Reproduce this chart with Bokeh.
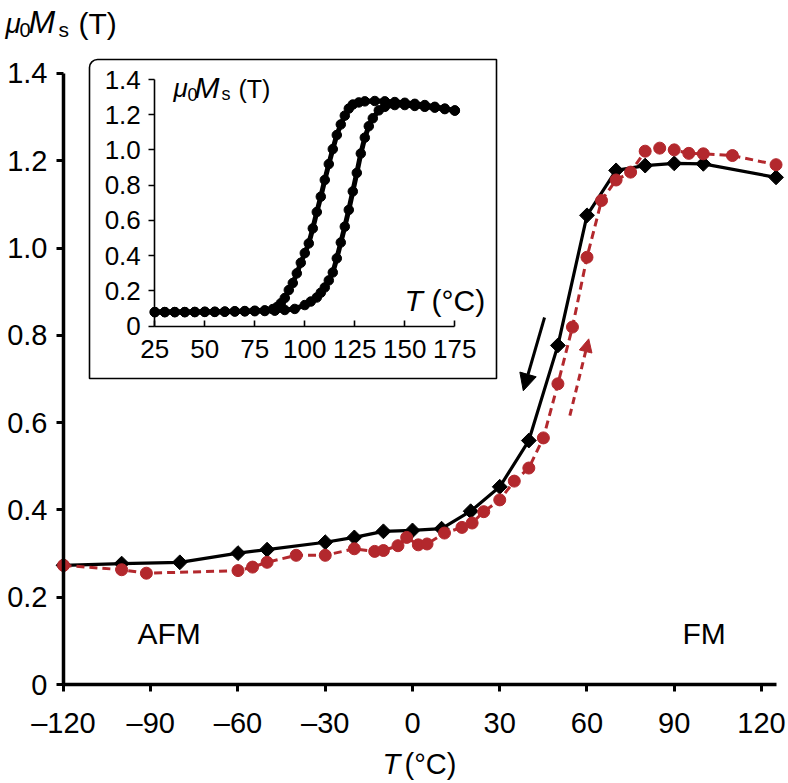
from bokeh.plotting import figure
from bokeh.models import Range1d, LinearAxis, FixedTicker, Label, Arrow, NormalHead, BoxAnnotation
from bokeh.embed import file_html
from bokeh.resources import INLINE

# ---------------- data ----------------
# main plot: cooling branch (black diamonds, solid line)
cool_T = [-120, -100, -80, -60, -50, -30, -20, -10, 0, 10, 20, 30, 40, 50, 60, 70, 80, 90, 100, 125]
cool_M = [0.273, 0.277, 0.280, 0.301, 0.309, 0.326, 0.337, 0.351, 0.353, 0.357, 0.397, 0.453,
          0.559, 0.777, 1.075, 1.178, 1.189, 1.194, 1.193, 1.162]

# main plot: heating branch (red circles, dashed line)
heat_T = [-120, -100, -91.5, -60, -55, -50, -40, -30, -20, -13, -10, -5, -2, 2, 5, 11, 17, 20.5,
          24.5, 30, 35, 40, 45, 50, 55, 60, 65, 70, 75, 80, 85, 90, 95, 100, 110, 125]
heat_M = [0.273, 0.263, 0.255, 0.261, 0.269, 0.280, 0.296, 0.296, 0.311, 0.305, 0.307, 0.318,
          0.337, 0.320, 0.322, 0.347, 0.360, 0.370, 0.396, 0.423, 0.466, 0.496, 0.565, 0.689,
          0.819, 0.979, 1.109, 1.156, 1.174, 1.222, 1.229, 1.225, 1.217, 1.216, 1.212, 1.191]

# inset: cooling branch
inset_cool_T = [25, 30, 35, 40, 45, 50, 55, 60, 65, 70, 75, 80, 84, 86, 88, 90, 92, 94, 96, 98,
                100, 102, 104, 106, 108, 110, 112, 114, 116, 118, 120, 122, 124, 127, 130, 135,
                140, 145, 150, 155, 160, 165, 170, 175]
inset_cool_M = [0.08, 0.08, 0.08, 0.08, 0.081, 0.082, 0.082, 0.083, 0.085, 0.086, 0.088, 0.09,
                0.097, 0.108, 0.13, 0.16, 0.205, 0.245, 0.30, 0.36, 0.415, 0.47, 0.555, 0.648,
                0.735, 0.83, 0.92, 1.005, 1.085, 1.145, 1.195, 1.235, 1.258, 1.27, 1.276, 1.278,
                1.276, 1.272, 1.268, 1.262, 1.255, 1.245, 1.235, 1.224]

# inset: heating branch
inset_heat_T = [25, 30, 35, 40, 45, 50, 55, 60, 65, 70, 75, 80, 85, 90, 95, 100, 103, 106, 108,
                110, 112, 114, 116, 118, 120, 122, 124, 126, 128, 130, 132, 134, 137, 140, 145,
                150, 155, 160, 165, 170, 175]
inset_heat_M = [0.08, 0.08, 0.08, 0.08, 0.08, 0.081, 0.081, 0.082, 0.083, 0.084, 0.085, 0.086,
                0.088, 0.092, 0.098, 0.12, 0.14, 0.163, 0.19, 0.22, 0.26, 0.305, 0.385, 0.475,
                0.565, 0.66, 0.765, 0.87, 0.98, 1.07, 1.135, 1.18, 1.225, 1.245, 1.255, 1.255,
                1.25, 1.245, 1.24, 1.232, 1.224]

# direction arrows (start T, start M, end T, end M)
cool_arrow = [45.4, 0.841, 38.1, 0.673]
heat_arrow = [54.1, 0.616, 60.6, 0.792]

# ticks
x_ticks = [-120, -90, -60, -30, 0, 30, 60, 90, 120]
x_tick_labels = ["\u2013120", "\u201390", "\u201360", "\u201330", "0", "30", "60", "90", "120"]
y_ticks = [0, 0.2, 0.4, 0.6, 0.8, 1.0, 1.2, 1.4]
y_tick_labels = ["0", "0.2", "0.4", "0.6", "0.8", "1.0", "1.2", "1.4"]
inset_x_ticks = [25, 50, 75, 100, 125, 150, 175]
inset_y_ticks = [0, 0.2, 0.4, 0.6, 0.8, 1.0, 1.2, 1.4]
inset_y_tick_labels = ["0", "0.2", "0.4", "0.6", "0.8", "1.0", "1.2", "1.4"]

# ---------------- styling / geometry ----------------
RED = "#b3282d"
FONT = "Liberation Sans"
W, H = 788, 783          # the frame fills the whole canvas

# main scale: page x of T=-120 is 63 (2.90833 px/unit); page y of M=0 is 684 (436.43 px/unit)
def X(px):
    return -120 + (px - 63) / 2.90833

def Y(py):
    return (684 - py) / 436.43

# inset scale: page x of T=25 is 154.3 (2 px/unit); page y of M=0 is 325.7 (176.21 px/unit)
def XI(px):
    return 25 + (px - 154.3) / 2.0

def YI(py):
    return (325.7 - py) / 176.21

p = figure(width=W, height=H,
           x_range=Range1d(X(0), X(W)), y_range=Range1d(Y(H), Y(0)),
           x_axis_location=None, y_axis_location=None,
           output_backend="svg", toolbar_location=None, min_border=0)
p.outline_line_color = None
p.grid.visible = False
p.background_fill_color = "white"
p.border_fill_color = "white"

p.extra_x_ranges = {"ix": Range1d(XI(0), XI(W))}
p.extra_y_ranges = {"iy": Range1d(YI(H), YI(0))}

# main axes (drawn at fixed data positions)
mx = LinearAxis(fixed_location=0, bounds=(-120, X(776)), ticker=FixedTicker(ticks=x_ticks))
mx.major_label_overrides = dict(zip(x_ticks, x_tick_labels))
my = LinearAxis(fixed_location=-120, bounds=(0, 1.4), ticker=FixedTicker(ticks=y_ticks))
my.major_label_overrides = dict(zip(y_ticks, y_tick_labels))
for ax in (mx, my):
    ax.axis_line_width = 3.5
    ax.axis_line_color = "black"
    ax.major_tick_line_width = 3
    ax.major_tick_line_color = "black"
    ax.major_tick_out = 7
    ax.major_tick_in = 0
    ax.minor_tick_line_color = None
    ax.major_label_text_font = FONT
    ax.major_label_text_font_size = "29px"
    ax.major_label_text_color = "black"
mx.major_label_standoff = 15
my.major_label_standoff = 9
p.add_layout(mx, "below")
p.add_layout(my, "left")

# ---------------- inset ----------------
box = BoxAnnotation(left=X(89), right=X(496), top=Y(59), bottom=Y(378),
                    fill_color="white", fill_alpha=1.0,
                    line_color="black", line_alpha=1.0, line_width=1.6,
                    border_radius=dict(top_left=8, top_right=0, bottom_right=0, bottom_left=0),
                    level="underlay")
p.add_layout(box)

iax = LinearAxis(x_range_name="ix", y_range_name="iy", fixed_location=0, bounds=(25, 175),
                 ticker=FixedTicker(ticks=inset_x_ticks))
iay = LinearAxis(x_range_name="ix", y_range_name="iy", fixed_location=25, bounds=(0, 1.4),
                 ticker=FixedTicker(ticks=inset_y_ticks))
iay.major_label_overrides = dict(zip(inset_y_ticks, inset_y_tick_labels))
for ax in (iax, iay):
    ax.axis_line_width = 1.6
    ax.axis_line_color = "black"
    ax.major_tick_line_width = 1.6
    ax.major_tick_line_color = "black"
    ax.minor_tick_line_color = None
    ax.major_label_text_font = FONT
    ax.major_label_text_font_size = "26px"
    ax.major_label_text_color = "black"
iax.major_tick_in = 6
iax.major_tick_out = 0
iax.major_label_standoff = 14
iay.major_tick_out = 6
iay.major_tick_in = 0
iay.major_label_standoff = 8
p.add_layout(iax, "below")
p.add_layout(iay, "left")

p.line(inset_cool_T, inset_cool_M, x_range_name="ix", y_range_name="iy",
       line_color="black", line_width=5)
p.scatter(inset_cool_T, inset_cool_M, x_range_name="ix", y_range_name="iy",
          marker="circle", size=9.5, fill_color="black", line_color="black")
p.line(inset_heat_T, inset_heat_M, x_range_name="ix", y_range_name="iy",
       line_color="black", line_width=5)
p.scatter(inset_heat_T, inset_heat_M, x_range_name="ix", y_range_name="iy",
          marker="circle", size=9.5, fill_color="black", line_color="black")

# ---------------- main series ----------------
p.line(cool_T, cool_M, line_color="black", line_width=3.2)
p.scatter(cool_T, cool_M, marker="square", angle=0.7854, size=10.5,
          fill_color="black", line_color="black")
p.line(heat_T, heat_M, line_color=RED, line_width=3, line_dash="8 5")
p.scatter(heat_T, heat_M, marker="circle", size=12, fill_color=RED, line_color=RED)

p.add_layout(Arrow(x_start=cool_arrow[0], y_start=cool_arrow[1],
                   x_end=cool_arrow[2], y_end=cool_arrow[3],
                   line_color="black", line_width=3,
                   end=NormalHead(size=17, fill_color="black", line_color="black")))
p.add_layout(Arrow(x_start=heat_arrow[0], y_start=heat_arrow[1],
                   x_end=heat_arrow[2], y_end=heat_arrow[3],
                   line_color=RED, line_width=3, line_dash="7 5",
                   end=NormalHead(size=13, fill_color=RED, line_color=RED)))

# ---------------- texts ----------------
def put(text, px, py, size, italic=False):
    # labels render ~0.35 em below the requested alphabetic baseline: compensate
    py = py - 0.35 * size
    p.add_layout(Label(x=X(px), y=Y(py), text=text, text_font=FONT,
                       text_font_size=f"{size}px",
                       text_font_style="italic" if italic else "normal",
                       text_color="black", text_align="left", text_baseline="alphabetic"))

# main y title  mu0 Ms (T)
put("\u03bc", 5, 33, 28, italic=True)
put("0", 19, 36, 20)
put("M", 28, 33, 32, italic=True)
put("s", 58, 36, 21)
put("(T)", 78, 33, 30)

# main x title  T (°C)
put("T", 382, 774, 29, italic=True)
put("(\u00b0C)", 404, 774, 29)

# phase labels
put("AFM", 137, 643, 30)
put("FM", 682, 643, 30)

# inset titles
put("\u03bc", 173, 97, 26, italic=True)
put("0", 187, 100, 18)
put("M", 194, 97, 30, italic=True)
put("s", 221, 100, 18)
put("(T)", 238, 97, 25)
put("T", 404, 310, 30, italic=True)
put("(\u00b0C)", 431, 310, 30)

open("out.html", "w").write(file_html(p, INLINE))
